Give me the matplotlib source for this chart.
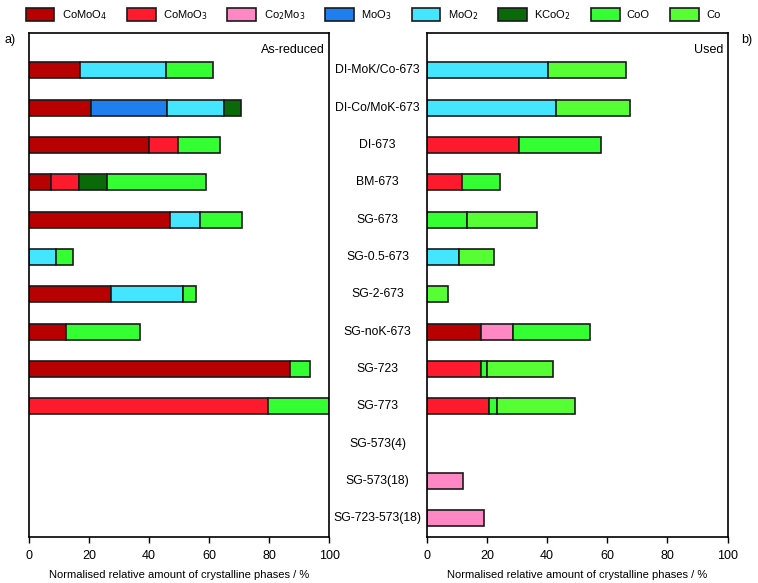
import numpy as np
import matplotlib.pyplot as plt
from matplotlib.patches import Patch

plt.rcParams['font.family'] = ['Liberation Sans', 'DejaVu Sans']
plt.rcParams['font.size'] = 10

# samples (top to bottom)
samples = ['DI-MoK/Co-673', 'DI-Co/MoK-673', 'DI-673', 'BM-673', 'SG-673',
           'SG-0.5-673', 'SG-2-673', 'SG-noK-673', 'SG-723', 'SG-773',
           'SG-573(4)', 'SG-573(18)', 'SG-723-573(18)']

phases = ['CoMoO$_4$', 'CoMoO$_3$', 'Co$_2$Mo$_3$', 'MoO$_3$', 'MoO$_2$',
          'KCoO$_2$', 'CoO', 'Co']
colors = ['#b80000', '#ff1a2e', '#ff88c4', '#1f7fee', '#44e6ff',
          '#0a6a0a', '#33ff33', '#55ff33']

# As-reduced (segment widths, %)
red_CoMoO4 = [17.1, 20.6, 39.9, 7.2, 46.8, 0, 27.2, 12.2, 86.9, 0, 0, 0, 0]
red_CoMoO3 = [0, 0, 9.8, 9.6, 0, 0, 0, 0, 0, 79.6, 0, 0, 0]
red_Co2Mo3 = [0, 0, 0, 0, 0, 0, 0, 0, 0, 0, 0, 0, 0]
red_MoO3 = [0, 25.3, 0, 0, 0, 0, 0, 0, 0, 0, 0, 0, 0]
red_MoO2 = [28.6, 19.1, 0, 0, 10.0, 8.9, 24.0, 0, 0, 0, 0, 0, 0]
red_KCoO2 = [0, 5.6, 0, 9.1, 0, 0, 0, 0, 0, 0, 0, 0, 0]
red_CoO = [15.7, 0, 14.0, 33.0, 14.3, 5.7, 4.5, 24.8, 6.8, 20.4, 0, 0, 0]
red_Co = [0, 0, 0, 0, 0, 0, 0, 0, 0, 0, 0, 0, 0]

# Used
used_CoMoO4 = [0, 0, 0, 0, 0, 0, 0, 17.9, 0, 0, 0, 0, 0]
used_CoMoO3 = [0, 0, 30.8, 11.7, 0, 0, 0, 0, 17.9, 20.8, 0, 0, 0]
used_Co2Mo3 = [0, 0, 0, 0, 0, 0, 0, 10.6, 0, 0, 0, 12.0, 18.9]
used_MoO3 = [0, 0, 0, 0, 0, 0, 0, 0, 0, 0, 0, 0, 0]
used_MoO2 = [40.4, 42.8, 0, 0, 0, 10.7, 0, 0, 0, 0, 0, 0, 0]
used_KCoO2 = [0, 0, 0, 0, 0, 0, 0, 0, 0, 0, 0, 0, 0]
used_CoO = [0, 0, 27.2, 12.8, 13.4, 0, 0, 25.8, 2.0, 2.7, 0, 0, 0]
used_Co = [25.9, 24.6, 0, 0, 23.2, 11.5, 6.9, 0, 21.9, 25.9, 0, 0, 0]

reduced = [red_CoMoO4, red_CoMoO3, red_Co2Mo3, red_MoO3, red_MoO2, red_KCoO2, red_CoO, red_Co]
used = [used_CoMoO4, used_CoMoO3, used_Co2Mo3, used_MoO3, used_MoO2, used_KCoO2, used_CoO, used_Co]

fig = plt.figure(figsize=(7.58, 5.83), dpi=100)
ax1 = fig.add_axes([0.0383, 0.0789, 0.396, 0.8645])
ax2 = fig.add_axes([0.563, 0.0789, 0.397, 0.8645])

y = np.arange(len(samples))[::-1]

def draw(ax, data, title):
    left = np.zeros(len(samples))
    for vals, c in zip(data, colors):
        vals = np.array(vals)
        m = vals > 0
        ax.barh(y[m], vals[m], left=left[m], height=0.43, color=c,
                edgecolor='#1a1a1a', linewidth=1.2)
        left += vals
    ax.set_xlim(0, 100)
    ax.set_ylim(-0.5, 13.0)
    ax.set_xticks([0, 20, 40, 60, 80, 100])
    ax.set_yticks([])
    ax.tick_params(axis='x', direction='out', length=4, width=1, pad=5, labelsize=9)
    for s in ax.spines.values():
        s.set_linewidth(1.2)
    ax.set_xlabel('Normalised relative amount of crystalline phases / %',
                  fontsize=8, labelpad=6)
    ax.text(0.985, 0.978, title, transform=ax.transAxes, ha='right', va='top', fontsize=9)

draw(ax1, reduced, 'As-reduced')
draw(ax2, used, 'Used')

for yi, name in zip(y, samples):
    ax2.text(-0.163, yi, name, transform=ax2.get_yaxis_transform(),
             ha='center', va='center', fontsize=8.8)

fig.text(0.006, 0.932, 'a)', fontsize=9, ha='left', va='center')
fig.text(0.992, 0.932, 'b)', fontsize=9, ha='right', va='center')

handles = [Patch(facecolor=c, edgecolor='#1a1a1a', linewidth=1.2) for c in colors]
fig.legend(handles, phases, loc='upper center', bbox_to_anchor=(0.492, 1.0), ncol=8,
           frameon=False, fontsize=8, borderpad=0.2,
           handlelength=2.6, handleheight=1.4, columnspacing=1.8, handletextpad=0.65)

plt.savefig('out.png', dpi=100)
